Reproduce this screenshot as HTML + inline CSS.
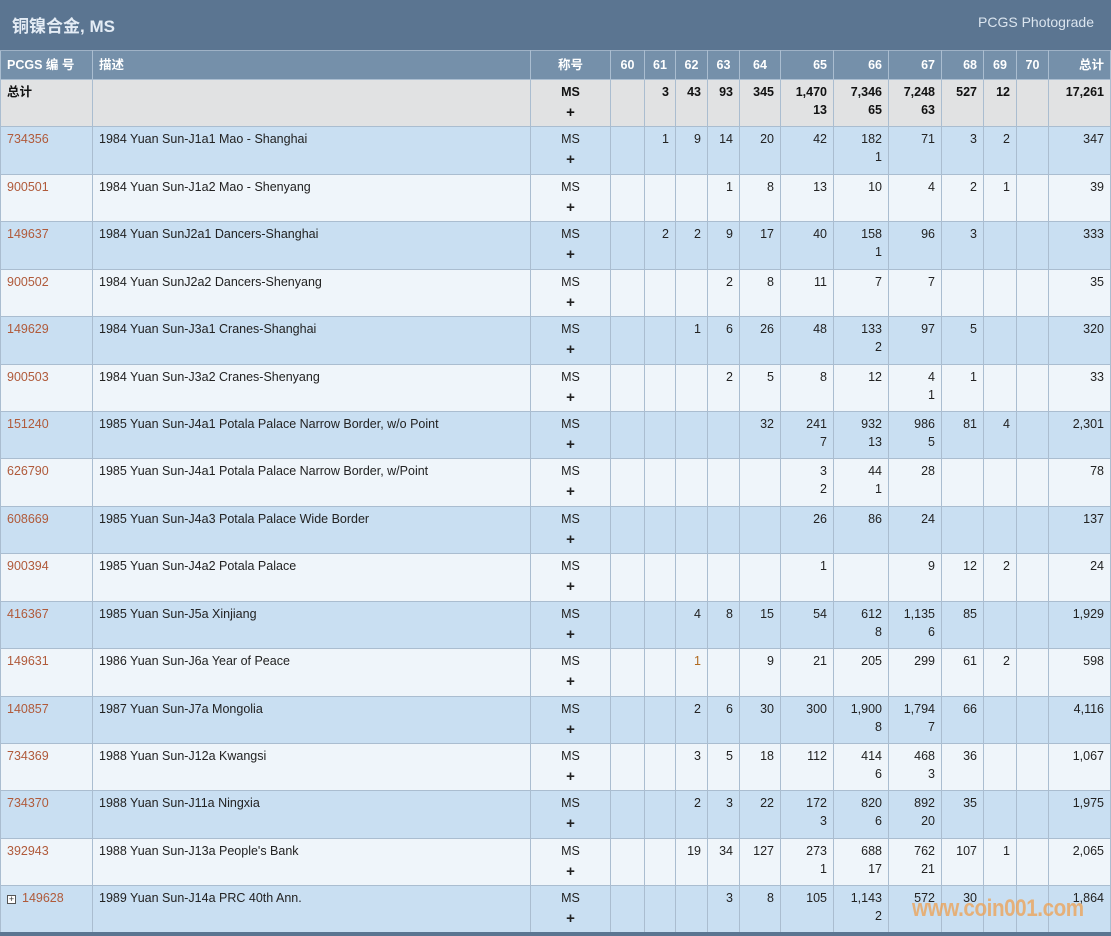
<!DOCTYPE html>
<html><head><meta charset="utf-8">
<style>
*{margin:0;padding:0;box-sizing:border-box}
body{width:1111px;height:936px;background:#fff;font-family:"Liberation Sans","Noto Sans CJK SC",sans-serif;font-size:12.5px;color:#222;overflow:hidden;position:relative}
.top{position:absolute;left:0;top:0;width:1111px;height:50px;background:#5b7591}
.top .t{position:absolute;left:12px;top:12px;font-size:17px;font-weight:bold;color:#e4ecf5}
.top .p{position:absolute;right:17px;top:14px;font-size:14px;color:#dbe5ef}
table{position:absolute;left:0;top:50px;border-collapse:collapse;table-layout:fixed;width:1110px}
td,th{border:1px solid #aabdd0;vertical-align:top;padding:3px 6px 0 6px;line-height:18px;white-space:nowrap;overflow:hidden}
th{background:#7590aa;color:#fff;font-weight:bold;height:29px;padding-top:5px;text-align:right;border-color:#aabdd0;border-top:1px solid #9fb2c6}
th.l{text-align:left}th.c{text-align:center}
tr.tot td{background:#e1e2e3;font-weight:bold;color:#111}
tr.a td{background:#c9dff2}
tr.b td{background:#eff5fa}
td{text-align:right}
td.l{text-align:left}td.c{text-align:center}
td.id{color:#b05a3a}
b.p{font-weight:bold;font-size:15px;display:inline-block;margin-top:3px}
.wm{position:absolute;left:912px;top:895px;font-size:24px;font-weight:bold;color:rgba(238,160,80,0.75);transform:scaleX(0.86);transform-origin:left top;letter-spacing:-0.5px}
.bot{position:absolute;left:0;top:932px;width:1111px;height:4px;background:#5b7591}
</style></head><body>
<div class="top"><div class="t">铜镍合金, MS</div><div class="p">PCGS Photograde</div></div>
<table>
<colgroup><col style="width:92px"><col style="width:438px"><col style="width:80px"><col style="width:34px"><col style="width:31px"><col style="width:32px"><col style="width:32px"><col style="width:41px"><col style="width:53px"><col style="width:55px"><col style="width:53px"><col style="width:42px"><col style="width:33px"><col style="width:32px"><col style="width:62px"></colgroup>
<tr><th class="l">PCGS 编 号</th><th class="l">描述</th><th class="c">称号</th><th class="c">60</th><th class="c">61</th><th class="c">62</th><th class="c">63</th><th class="c">64</th><th>65</th><th>66</th><th>67</th><th>68</th><th class="c">69</th><th class="c">70</th><th>总计</th></tr>
<tr class="tot" style="height:47px"><td class="l">总计</td><td></td><td class="c">MS<br><b class="p">+</b></td><td></td><td>3</td><td>43</td><td>93</td><td>345</td><td>1,470<br>13</td><td>7,346<br>65</td><td>7,248<br>63</td><td>527</td><td>12</td><td></td><td>17,261</td></tr>
<tr class="a" style="height:48px"><td class="l id">734356</td><td class="l">1984 Yuan Sun-J1a1 Mao - Shanghai</td><td class="c">MS<br><b class="p">+</b></td><td></td><td>1</td><td>9</td><td>14</td><td>20</td><td>42</td><td>182<br>1</td><td>71</td><td>3</td><td>2</td><td></td><td>347</td></tr>
<tr class="b" style="height:47px"><td class="l id">900501</td><td class="l">1984 Yuan Sun-J1a2 Mao - Shenyang</td><td class="c">MS<br><b class="p">+</b></td><td></td><td></td><td></td><td>1</td><td>8</td><td>13</td><td>10</td><td>4</td><td>2</td><td>1</td><td></td><td>39</td></tr>
<tr class="a" style="height:48px"><td class="l id">149637</td><td class="l">1984 Yuan SunJ2a1 Dancers-Shanghai</td><td class="c">MS<br><b class="p">+</b></td><td></td><td>2</td><td>2</td><td>9</td><td>17</td><td>40</td><td>158<br>1</td><td>96</td><td>3</td><td></td><td></td><td>333</td></tr>
<tr class="b" style="height:47px"><td class="l id">900502</td><td class="l">1984 Yuan SunJ2a2 Dancers-Shenyang</td><td class="c">MS<br><b class="p">+</b></td><td></td><td></td><td></td><td>2</td><td>8</td><td>11</td><td>7</td><td>7</td><td></td><td></td><td></td><td>35</td></tr>
<tr class="a" style="height:48px"><td class="l id">149629</td><td class="l">1984 Yuan Sun-J3a1 Cranes-Shanghai</td><td class="c">MS<br><b class="p">+</b></td><td></td><td></td><td>1</td><td>6</td><td>26</td><td>48</td><td>133<br>2</td><td>97</td><td>5</td><td></td><td></td><td>320</td></tr>
<tr class="b" style="height:47px"><td class="l id">900503</td><td class="l">1984 Yuan Sun-J3a2 Cranes-Shenyang</td><td class="c">MS<br><b class="p">+</b></td><td></td><td></td><td></td><td>2</td><td>5</td><td>8</td><td>12</td><td>4<br>1</td><td>1</td><td></td><td></td><td>33</td></tr>
<tr class="a" style="height:47px"><td class="l id">151240</td><td class="l">1985 Yuan Sun-J4a1 Potala Palace Narrow Border, w/o Point</td><td class="c">MS<br><b class="p">+</b></td><td></td><td></td><td></td><td></td><td>32</td><td>241<br>7</td><td>932<br>13</td><td>986<br>5</td><td>81</td><td>4</td><td></td><td>2,301</td></tr>
<tr class="b" style="height:48px"><td class="l id">626790</td><td class="l">1985 Yuan Sun-J4a1 Potala Palace Narrow Border, w/Point</td><td class="c">MS<br><b class="p">+</b></td><td></td><td></td><td></td><td></td><td></td><td>3<br>2</td><td>44<br>1</td><td>28</td><td></td><td></td><td></td><td>78</td></tr>
<tr class="a" style="height:47px"><td class="l id">608669</td><td class="l">1985 Yuan Sun-J4a3 Potala Palace Wide Border</td><td class="c">MS<br><b class="p">+</b></td><td></td><td></td><td></td><td></td><td></td><td>26</td><td>86</td><td>24</td><td></td><td></td><td></td><td>137</td></tr>
<tr class="b" style="height:48px"><td class="l id">900394</td><td class="l">1985 Yuan Sun-J4a2 Potala Palace</td><td class="c">MS<br><b class="p">+</b></td><td></td><td></td><td></td><td></td><td></td><td>1</td><td></td><td>9</td><td>12</td><td>2</td><td></td><td>24</td></tr>
<tr class="a" style="height:47px"><td class="l id">416367</td><td class="l">1985 Yuan Sun-J5a Xinjiang</td><td class="c">MS<br><b class="p">+</b></td><td></td><td></td><td>4</td><td>8</td><td>15</td><td>54</td><td>612<br>8</td><td>1,135<br>6</td><td>85</td><td></td><td></td><td>1,929</td></tr>
<tr class="b" style="height:48px"><td class="l id">149631</td><td class="l">1986 Yuan Sun-J6a Year of Peace</td><td class="c">MS<br><b class="p">+</b></td><td></td><td></td><td style="color:#b06a20">1</td><td></td><td>9</td><td>21</td><td>205</td><td>299</td><td>61</td><td>2</td><td></td><td>598</td></tr>
<tr class="a" style="height:47px"><td class="l id">140857</td><td class="l">1987 Yuan Sun-J7a Mongolia</td><td class="c">MS<br><b class="p">+</b></td><td></td><td></td><td>2</td><td>6</td><td>30</td><td>300</td><td>1,900<br>8</td><td>1,794<br>7</td><td>66</td><td></td><td></td><td>4,116</td></tr>
<tr class="b" style="height:47px"><td class="l id">734369</td><td class="l">1988 Yuan Sun-J12a Kwangsi</td><td class="c">MS<br><b class="p">+</b></td><td></td><td></td><td>3</td><td>5</td><td>18</td><td>112</td><td>414<br>6</td><td>468<br>3</td><td>36</td><td></td><td></td><td>1,067</td></tr>
<tr class="a" style="height:48px"><td class="l id">734370</td><td class="l">1988 Yuan Sun-J11a Ningxia</td><td class="c">MS<br><b class="p">+</b></td><td></td><td></td><td>2</td><td>3</td><td>22</td><td>172<br>3</td><td>820<br>6</td><td>892<br>20</td><td>35</td><td></td><td></td><td>1,975</td></tr>
<tr class="b" style="height:47px"><td class="l id">392943</td><td class="l">1988 Yuan Sun-J13a People's Bank</td><td class="c">MS<br><b class="p">+</b></td><td></td><td></td><td>19</td><td>34</td><td>127</td><td>273<br>1</td><td>688<br>17</td><td>762<br>21</td><td>107</td><td>1</td><td></td><td>2,065</td></tr>
<tr class="a" style="height:48px"><td class="l id"><span style="display:inline-block;width:9px;height:9px;border:1px solid #555;font-size:9px;line-height:7px;text-align:center;color:#333;margin-right:6px;background:#fff">+</span>149628</td><td class="l">1989 Yuan Sun-J14a PRC 40th Ann.</td><td class="c">MS<br><b class="p">+</b></td><td></td><td></td><td></td><td>3</td><td>8</td><td>105</td><td>1,143<br>2</td><td>572</td><td>30</td><td></td><td></td><td>1,864</td></tr>
</table>
<div class="wm">www.coin001.com</div>
<div class="bot"></div>
</body></html>
